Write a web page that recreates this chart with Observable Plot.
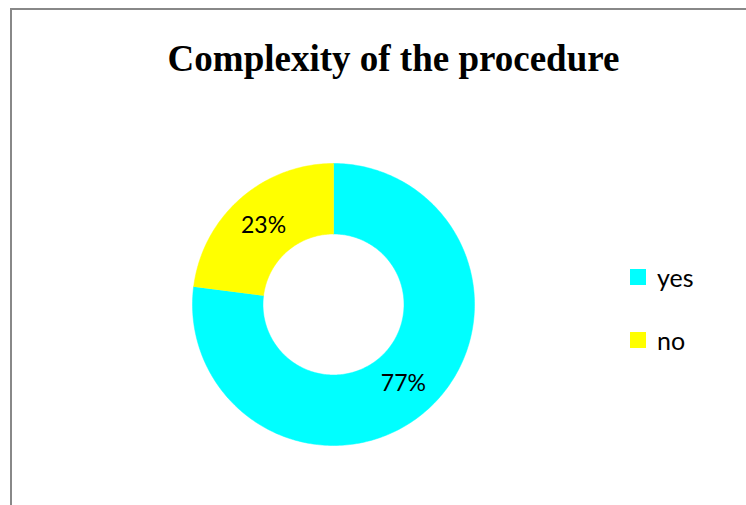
<!DOCTYPE html>
<html><head><meta charset="utf-8">
<script src="https://cdn.jsdelivr.net/npm/d3@7"></script>
<script src="https://cdn.jsdelivr.net/npm/@observablehq/plot@0.6"></script>
<style>
body{margin:0;background:#fff;overflow:hidden}
#wrap{position:relative;width:746px;height:505px;overflow:hidden;background:#fff}
#frame{position:absolute;left:10px;top:8px;width:800px;height:600px;border:2px solid #888;box-sizing:border-box}
#chart{position:absolute;left:0;top:0}
.item{position:absolute;left:630px;height:24px;display:flex;align-items:center;font-family:Lato,"Noto Sans",sans-serif;font-size:25px;color:#000}
.sw{width:16px;height:16px;margin-right:11px;flex:none}
</style></head>
<body><div id="wrap"><div id="frame"></div><div id="chart"></div><div id="legend"></div></div>
<script>
const categories = ["yes", "no"];
const values = [77, 23];
const colors = ["#00FFFF", "#FFFF00"];
const title = "Complexity of the procedure";
const innerRatio = 0.5;

const pie = d3.pie().sort(null).value(d => d.value);
const arcs = pie(categories.map((c, i) => ({category: c, value: values[i]})));

const poly = [];
const labels = [];
arcs.forEach(a => {
  const steps = Math.max(4, Math.ceil((a.endAngle - a.startAngle) / (2 * Math.PI) * 360));
  const ring = [];
  for (let k = 0; k <= steps; k++) {
    const t = a.startAngle + (a.endAngle - a.startAngle) * k / steps;
    ring.push([Math.sin(t), Math.cos(t)]);
  }
  for (let k = steps; k >= 0; k--) {
    const t = a.startAngle + (a.endAngle - a.startAngle) * k / steps;
    ring.push([innerRatio * Math.sin(t), innerRatio * Math.cos(t)]);
  }
  ring.forEach(([x, y]) => poly.push({category: a.data.category, x, y}));
  const m = (a.startAngle + a.endAngle) / 2, r = (1 + innerRatio) / 2;
  labels.push({x: r * Math.sin(m), y: r * Math.cos(m), text: a.data.value + "%"});
});

const chart = Plot.plot({
  width: 746, height: 505,
  marginLeft: 192, marginRight: 272, marginTop: 163, marginBottom: 60,
  x: {domain: [-1, 1], axis: null},
  y: {domain: [-1, 1], axis: null},
  color: {domain: categories, range: colors},
  style: {background: "transparent"},
  marks: [
    Plot.line(poly, {x: "x", y: "y", z: "category", fill: "category", stroke: "category", strokeWidth: 0.5, curve: "linear"}),
    Plot.text(labels, {x: "x", y: "y", text: "text", fontFamily: "Lato", fontSize: 23, fill: "#000"}),
    Plot.text([title], {frameAnchor: "top", dx: 60, dy: -104, text: d => d, fontFamily: "Liberation Serif", fontWeight: "bold", fontSize: 37, fill: "#000", lineAnchor: "middle"})
  ]
});
document.getElementById("chart").appendChild(chart);

const legend = document.getElementById("legend");
const tops = [265, 328];
categories.forEach((c, i) => {
  const it = document.createElement("div");
  it.className = "item";
  it.style.top = tops[i] + "px";
  const sw = document.createElement("span");
  sw.className = "sw";
  sw.style.background = colors[i];
  const tx = document.createElement("span");
  tx.textContent = c;
  it.appendChild(sw); it.appendChild(tx);
  legend.appendChild(it);
});
</script>
</body></html>
